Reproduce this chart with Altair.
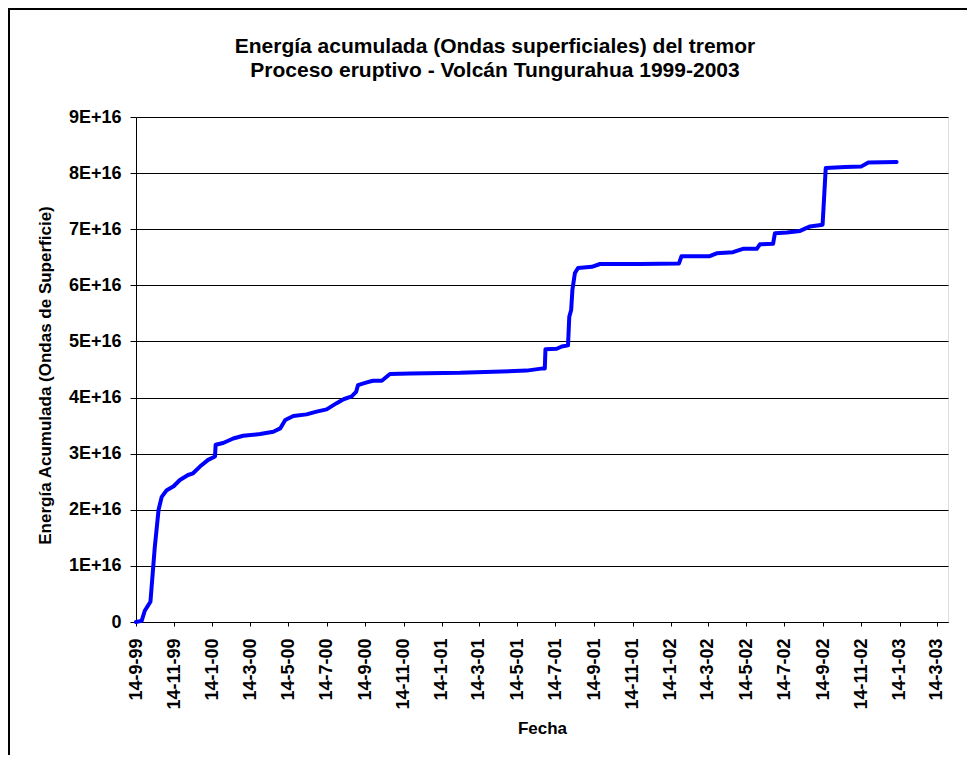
import altair as alt
import pandas as pd

# Data (energy in units of 1E+16)
fechas = [
    "1999-09-14", "1999-09-23", "1999-09-28", "1999-10-07", "1999-10-14", "1999-10-20",
    "1999-10-25", "1999-11-02", "1999-11-13", "1999-11-23", "1999-12-06", "1999-12-14",
    "1999-12-25", "2000-01-07", "2000-01-18", "2000-01-19", "2000-01-31", "2000-02-16",
    "2000-03-03", "2000-03-30", "2000-04-20", "2000-05-01", "2000-05-09", "2000-05-22",
    "2000-06-12", "2000-06-28", "2000-07-14", "2000-07-30", "2000-08-10", "2000-08-23",
    "2000-08-30", "2000-09-02", "2000-09-16", "2000-09-26", "2000-10-10", "2000-10-23",
    "2000-11-24", "2001-02-12", "2001-04-06", "2001-05-29", "2001-06-24", "2001-06-27",
    "2001-06-28", "2001-07-16", "2001-07-24", "2001-08-03", "2001-08-05", "2001-08-08",
    "2001-08-10", "2001-08-14", "2001-08-19", "2001-09-10", "2001-09-23", "2001-11-26",
    "2002-01-27", "2002-01-31", "2002-03-17", "2002-03-28", "2002-04-23", "2002-05-09",
    "2002-05-31", "2002-06-05", "2002-06-26", "2002-06-29", "2002-07-18", "2002-08-08",
    "2002-08-24", "2002-09-13", "2002-09-18", "2002-10-19", "2002-11-14", "2002-11-25",
    "2003-01-09",
]
energia_e16 = [
    0.00, 0.02, 0.20, 0.36, 1.34, 2.00,
    2.23, 2.35, 2.42, 2.53, 2.62, 2.65,
    2.77, 2.89, 2.95, 3.16, 3.19, 3.27,
    3.32, 3.35, 3.39, 3.45, 3.60, 3.67,
    3.70, 3.75, 3.79, 3.90, 3.97, 4.02,
    4.10, 4.22, 4.27, 4.30, 4.30, 4.42,
    4.43, 4.44, 4.46, 4.48, 4.52, 4.52,
    4.86, 4.87, 4.91, 4.93, 5.44, 5.56,
    5.92, 6.22, 6.31, 6.33, 6.38, 6.38,
    6.39, 6.52, 6.52, 6.57, 6.59, 6.65,
    6.65, 6.73, 6.74, 6.93, 6.94, 6.97,
    7.05, 7.08, 8.09, 8.11, 8.12, 8.19,
    8.20,
]

# Axis ticks (14th of every other month)
tick_fechas = [
    (1999, 9), (1999, 11), (2000, 1), (2000, 3), (2000, 5), (2000, 7), (2000, 9),
    (2000, 11), (2001, 1), (2001, 3), (2001, 5), (2001, 7), (2001, 9), (2001, 11),
    (2002, 1), (2002, 3), (2002, 5), (2002, 7), (2002, 9), (2002, 11), (2003, 1),
    (2003, 3),
]
y_ticks_e16 = [0, 1, 2, 3, 4, 5, 6, 7, 8, 9]

titulo = ["Energía acumulada (Ondas superficiales) del tremor",
          "Proceso eruptivo - Volcán Tungurahua 1999-2003"]

df = pd.DataFrame({"fecha": fechas, "energia": [v * 1e16 for v in energia_e16]})

FONT = "Liberation Sans"
LABEL_SIZE = 18
AXIS_TITLE_SIZE = 17

x_values = [alt.DateTime(year=y, month=m, date=14, utc=True) for (y, m) in tick_fechas]
x_domain = [alt.DateTime(year=1999, month=9, date=14, utc=True),
            alt.DateTime(year=2003, month=4, date=1, utc=True)]

line = alt.Chart(df).mark_line(color="#0000FF", strokeWidth=4, strokeJoin="round",
                               strokeCap="round").encode(
    x=alt.X("fecha:T",
            scale=alt.Scale(type="utc", domain=x_domain, nice=False),
            axis=alt.Axis(values=x_values,
                          labelExpr="utcFormat(datum.value, '%-d-%-m-%y')",
                          labelAngle=-90, labelAlign="right", labelBaseline="middle",
                          labelFont=FONT, labelFontSize=LABEL_SIZE, labelFontWeight="bold",
                          labelColor="black", labelPadding=12, labelOverlap=False,
                          labelFlush=False,
                          tickSize=4, tickColor="black", domainColor="black",
                          grid=False, title="Fecha", titleFont=FONT,
                          titleFontSize=AXIS_TITLE_SIZE, titleFontWeight="bold",
                          titleColor="black", titleY=106, titleBaseline="middle")),
    y=alt.Y("energia:Q",
            scale=alt.Scale(domain=[0, 9e16], nice=False, zero=True),
            axis=alt.Axis(values=[v * 1e16 for v in y_ticks_e16],
                          labelExpr="datum.value == 0 ? '0' : round(datum.value / 1e16) + 'E+16'",
                          labelFont=FONT, labelFontSize=LABEL_SIZE, labelFontWeight="bold",
                          labelColor="black", labelPadding=9, labelFlush=False,
                          tickSize=6, tickColor="black", domainColor="black",
                          grid=True, gridColor="black", gridWidth=1, gridOpacity=1,
                          title="Energía Acumulada (Ondas de Superficie)",
                          titleFont=FONT, titleFontSize=AXIS_TITLE_SIZE, titleFontWeight="bold",
                          titleColor="black", titleAngle=-90, titleX=-91, titleY=258,
                          titleAlign="center", titleBaseline="middle")),
)

title_df = pd.DataFrame({"texto": titulo, "linea": [0, 1]})
title1 = alt.Chart(title_df).transform_filter("datum.linea == 0").mark_text(
    font=FONT, fontSize=21, fontWeight="bold", color="black",
    align="center", baseline="middle"
).encode(text="texto:N", x=alt.value(359), y=alt.value(-70))
title2 = alt.Chart(title_df).transform_filter("datum.linea == 1").mark_text(
    font=FONT, fontSize=21, fontWeight="bold", color="black",
    align="center", baseline="middle"
).encode(text="texto:N", x=alt.value(359), y=alt.value(-46))

frame = alt.Chart(pd.DataFrame({"a": [0]})).mark_rect(
    fill=None, stroke="black", strokeWidth=2
).encode(
    x=alt.value(-127), x2=alt.value(1200),
    y=alt.value(-108), y2=alt.value(900),
)

chart = alt.layer(line, title1, title2, frame).properties(
    width=812,
    height=505,
    autosize=alt.AutoSizeParams(type="none"),
    padding={"left": 128, "top": 109, "right": 19, "bottom": 133},
).configure_view(
    stroke="black", strokeWidth=1
).configure(background="white")

chart.save("out.html", embed_options={"renderer": "svg", "actions": False})
